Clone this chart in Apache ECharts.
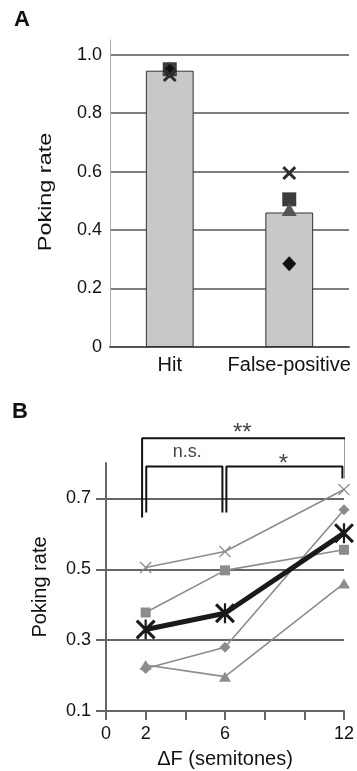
<!DOCTYPE html>
<html>
<head>
<meta charset="utf-8">
<script src="https://cdn.jsdelivr.net/npm/echarts@6/dist/echarts.min.js"></script>
<style>
html,body{margin:0;padding:0;background:#fff;}
#chart{width:357px;height:771px;}
</style>
</head>
<body>
<div id="chart"></div>
<script>
// ---- Panel A data ----
const panelACategories = ['Hit', 'False-positive'];
const panelABarValues = [0.945, 0.46];
const panelACrossValues = [0.93, 0.595];
const panelASquareValues = [0.95, 0.505];
const panelATriangleValues = [0.955, 0.47];
const panelADiamondValues = [0.945, 0.285];

// ---- Panel B data ----
const semitones = [2, 6, 12];
const subjectCross = [0.505, 0.55, 0.725];
const subjectSquare = [0.378, 0.497, 0.555];
const subjectDiamond = [0.22, 0.28, 0.668];
const subjectTriangle = [0.23, 0.197, 0.46];
const meanRate = [0.33, 0.376, 0.602];
const panelBXTickLabels = [0, 2, 6, 12];

// significance brackets (data coordinates) and their labels
const bracketAll = [[1.82, 0.646], [1.82, 0.87], [12.08, 0.87], [12.08, 0.756]];
const bracketNS = [[2.03, 0.66], [2.03, 0.79], [5.87, 0.79], [5.87, 0.66]];
const bracketStar = [[6.07, 0.66], [6.07, 0.79], [11.92, 0.79], [11.92, 0.756]];
const bracketLabels = [[6.87, 0.885, '**'], [4.1, 0.832, 'n.s.'], [8.95, 0.795, '*']];

const FONT = '"Liberation Sans", Arial, sans-serif';
const crossThick = 'path://M3,0L10,7L17,0L20,3L13,10L20,17L17,20L10,13L3,20L0,17L7,10L0,3Z';
const crossThin = 'path://M1.5,0L10,8.5L18.5,0L20,1.5L11.5,10L20,18.5L18.5,20L10,11.5L1.5,20L0,18.5L8.5,10L0,1.5Z';
const asterisk = 'path://M2.2,0L10,7.8L17.8,0L20,2.2L12.2,10L20,17.8L17.8,20L10,12.2L2.2,20L0,17.8L7.8,10L0,2.2Z M8.9,0L11.1,0L11.1,20L8.9,20Z';

const gray = '#8c8c8c';
function pairs(xs, ys) { return xs.map((x, i) => [x, ys[i]]); }
function catPairs(ys) { return panelACategories.map((c, i) => [c, ys[i]]); }

const chart = echarts.init(document.getElementById('chart'), null, {renderer: 'canvas'});

const option = {
  backgroundColor: '#ffffff',
  animation: false,
  textStyle: {fontFamily: FONT},
  grid: [
    {left: 110, right: 8, top: 40, height: 307},
    {left: 106, right: 11, top: 463, height: 248}
  ],
  xAxis: [
    {
      type: 'category', gridIndex: 0, data: panelACategories,
      axisLine: {show: true, lineStyle: {color: '#555', width: 2}},
      axisTick: {show: false},
      axisLabel: {fontSize: 20, color: '#111', margin: 8, fontFamily: FONT, interval: 0, hideOverlap: false},
      splitLine: {show: false}
    },
    {
      type: 'value', gridIndex: 1, min: 0, max: 12, interval: 2,
      axisLine: {show: true, lineStyle: {color: '#666', width: 2}},
      axisTick: {show: true, length: 9, lineStyle: {color: '#666', width: 2}},
      axisLabel: {
        fontSize: 18, color: '#111', margin: 14, fontFamily: FONT,
        formatter: v => panelBXTickLabels.indexOf(v) >= 0 ? String(v) : ''
      },
      splitLine: {show: false},
      name: '\u0394F (semitones)', nameLocation: 'middle', nameGap: 38,
      nameTextStyle: {fontSize: 20, color: '#111', fontFamily: FONT}
    }
  ],
  yAxis: [
    {
      type: 'value', gridIndex: 0, min: 0, max: 1.05, interval: 0.2,
      axisLine: {show: true, lineStyle: {color: '#aaa', width: 1}},
      axisTick: {show: false},
      axisLabel: {
        fontSize: 18, color: '#111', margin: 8, fontFamily: FONT, showMaxLabel: false,
        formatter: v => v === 0 ? '0' : v.toFixed(1)
      },
      splitLine: {show: true, showMaxLine: false, lineStyle: {color: '#555', width: 1.5}}
    },
    {
      type: 'value', gridIndex: 1, min: 0.1, max: 0.8, interval: 0.2,
      axisLine: {show: true, lineStyle: {color: '#666', width: 2}},
      axisTick: {show: true, length: 10, lineStyle: {color: '#666', width: 2}},
      axisLabel: {
        fontSize: 18, color: '#111', margin: 15, fontFamily: FONT, showMaxLabel: false,
        formatter: v => (Math.abs(v - 0.8) < 1e-6) ? '' : v.toFixed(1)
      },
      splitLine: {show: true, showMaxLine: false, lineStyle: {color: '#666', width: 2}},
      name: 'Poking rate', nameLocation: 'middle', nameGap: 56,
      nameTextStyle: {fontSize: 20, color: '#111', fontFamily: FONT}
    }
  ],
  graphic: [
    {type: 'text', left: 14, top: 9, style: {text: 'A', font: 'bold 22px ' + FONT, fill: '#111'}},
    {type: 'text', left: 12, top: 401, style: {text: 'B', font: 'bold 22px ' + FONT, fill: '#111'}},
    {type: 'text', x: 46, y: 192, rotation: Math.PI / 2, scaleX: 1.3,
      style: {text: 'Poking rate', font: '18px ' + FONT, fill: '#111', align: 'center', verticalAlign: 'middle'}}
  ],
  series: [
    // Panel A
    {
      type: 'bar', xAxisIndex: 0, yAxisIndex: 0, data: panelABarValues, barWidth: '40%',
      itemStyle: {color: '#c8c8c8', borderColor: '#333', borderWidth: 1}, z: 2
    },
    {
      type: 'scatter', xAxisIndex: 0, yAxisIndex: 0, data: catPairs(panelASquareValues),
      symbol: 'rect', symbolSize: 14, itemStyle: {color: '#3c3c3c', opacity: 1}, z: 3
    },
    {
      type: 'scatter', xAxisIndex: 0, yAxisIndex: 0, data: catPairs(panelATriangleValues),
      symbol: 'triangle', symbolSize: [15, 13], itemStyle: {color: '#555', opacity: 1}, z: 4
    },
    {
      type: 'scatter', xAxisIndex: 0, yAxisIndex: 0, data: catPairs(panelADiamondValues),
      symbol: 'diamond', symbolSize: [14, 15], itemStyle: {color: '#111', opacity: 1}, z: 5
    },
    {
      type: 'scatter', xAxisIndex: 0, yAxisIndex: 0, data: catPairs(panelACrossValues),
      symbol: crossThick, symbolSize: 14, itemStyle: {color: '#2e2e2e', opacity: 1}, z: 6
    },
    // Panel B individual subjects
    {
      type: 'line', xAxisIndex: 1, yAxisIndex: 1, data: pairs(semitones, subjectCross), clip: false,
      symbol: crossThin, symbolSize: 12, lineStyle: {color: gray, width: 1.6},
      itemStyle: {color: gray}, z: 3
    },
    {
      type: 'line', xAxisIndex: 1, yAxisIndex: 1, data: pairs(semitones, subjectSquare), clip: false,
      symbol: 'rect', symbolSize: 10, lineStyle: {color: gray, width: 1.6},
      itemStyle: {color: gray}, z: 3
    },
    {
      type: 'line', xAxisIndex: 1, yAxisIndex: 1, data: pairs(semitones, subjectDiamond), clip: false,
      symbol: 'diamond', symbolSize: 11, lineStyle: {color: gray, width: 1.6},
      itemStyle: {color: gray}, z: 3
    },
    {
      type: 'line', xAxisIndex: 1, yAxisIndex: 1, data: pairs(semitones, subjectTriangle), clip: false,
      symbol: 'triangle', symbolSize: [12, 10], lineStyle: {color: gray, width: 1.6},
      itemStyle: {color: gray}, z: 3
    },
    // Panel B mean
    {
      type: 'line', xAxisIndex: 1, yAxisIndex: 1, data: pairs(semitones, meanRate), clip: false,
      symbol: asterisk, symbolSize: 20, lineStyle: {color: '#1a1a1a', width: 5},
      itemStyle: {color: '#1a1a1a'}, z: 5
    },
    // Brackets
    ...[bracketAll, bracketNS, bracketStar].map(b => ({
      type: 'line', xAxisIndex: 1, yAxisIndex: 1, data: b, clip: false, symbol: 'none',
      lineStyle: {color: '#111', width: 2}, z: 6, silent: true
    })),
    {
      type: 'scatter', xAxisIndex: 1, yAxisIndex: 1, data: bracketLabels, clip: false,
      symbolSize: 1, itemStyle: {color: 'rgba(0,0,0,0)'}, z: 7,
      label: {
        show: true, position: 'inside', fontSize: 18, color: '#111', fontFamily: FONT,
        formatter: p => p.data[2] === 'n.s.' ? p.data[2] : '{s|' + p.data[2] + '}',
        rich: {s: {fontSize: 24, color: '#111', fontFamily: FONT}}
      }
    }
  ]
};
chart.setOption(option);
</script>
</body>
</html>
